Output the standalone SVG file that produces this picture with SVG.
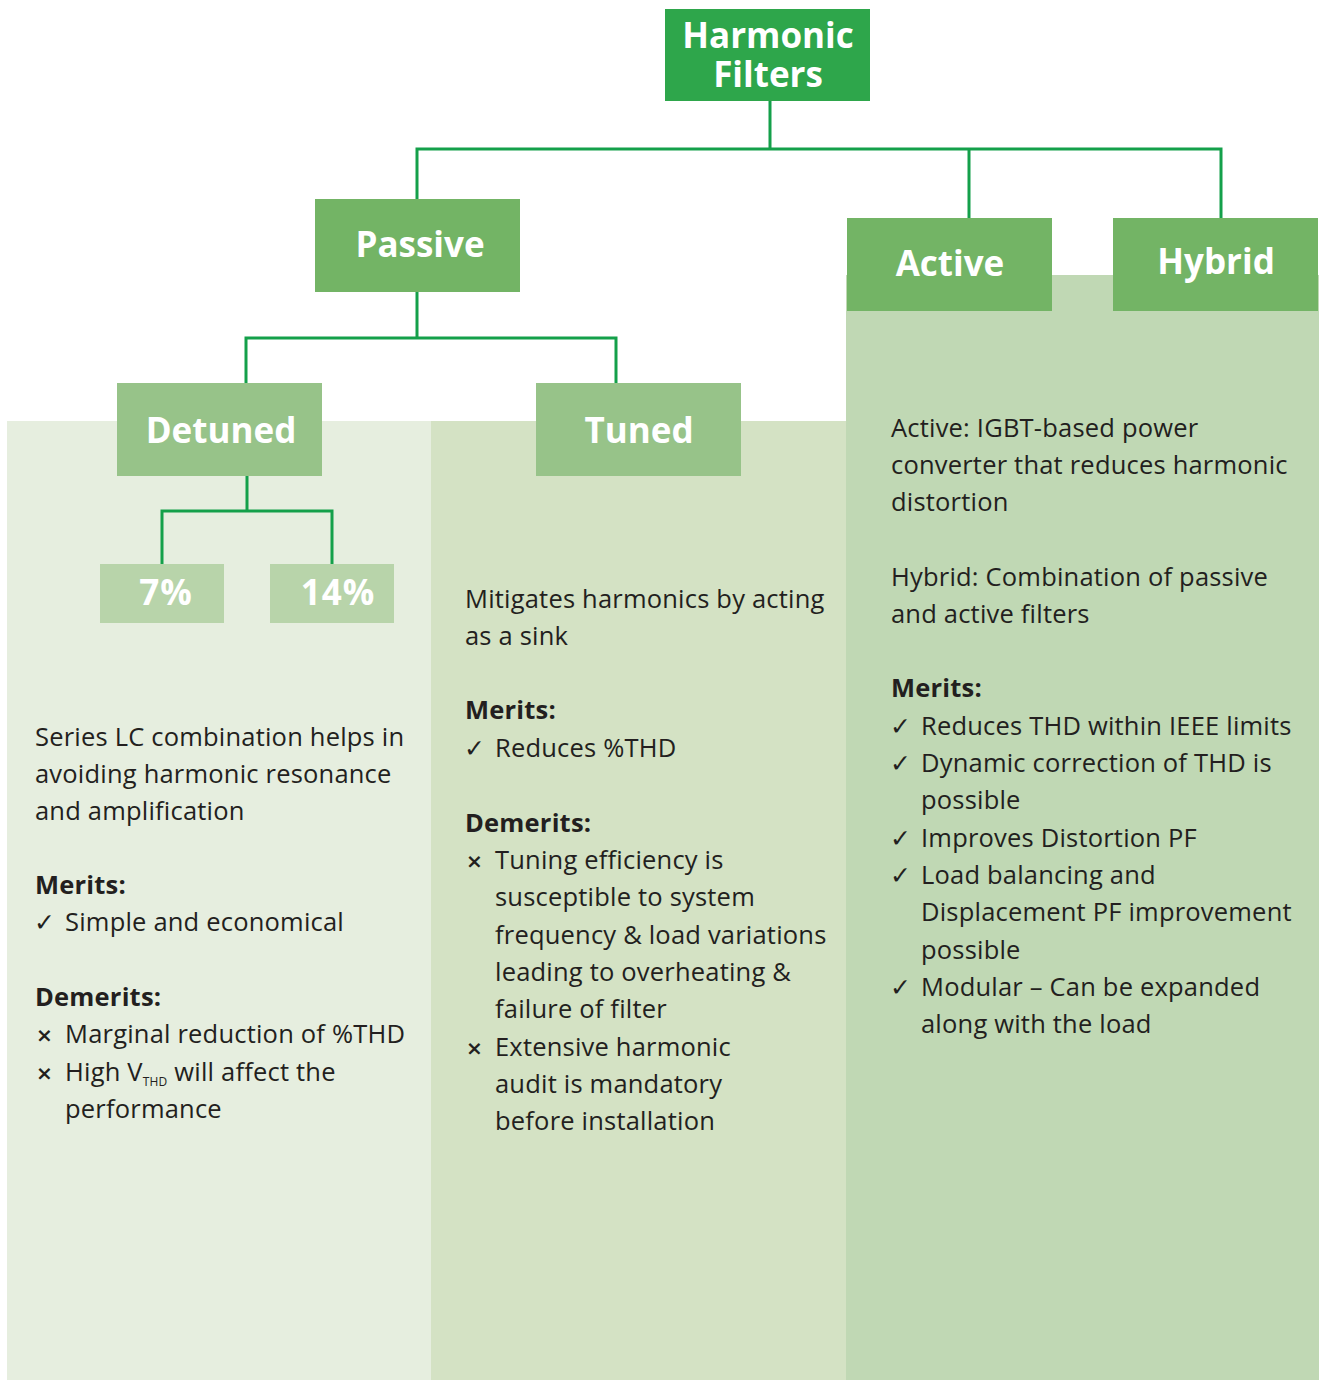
<svg xmlns="http://www.w3.org/2000/svg" width="1319" height="1380" viewBox="0 0 1319 1380">
<style>
.hd{font-family:"Open Sans","Noto Sans",sans-serif;font-weight:bold;fill:#fff;text-anchor:middle;font-size:35px}
.tx{font-family:"Open Sans","Noto Sans",sans-serif;font-size:25.5px;letter-spacing:0.2px;fill:#231f20}
.b{font-weight:bold}
.mk{font-family:"DejaVu Sans",sans-serif;font-size:25px;fill:#231f20}
.xk{font-family:"DejaVu Sans",sans-serif;font-size:20px;font-weight:bold;fill:#231f20}
.cn{fill:none;stroke:#14a04a;stroke-width:3}
</style>
<rect width="1319" height="1380" fill="#fff"/>
<g id="columns">
<rect x="7" y="421" width="424" height="959" fill="#e6eedf"/>
<rect x="431" y="421" width="415" height="959" fill="#d4e2c4"/>
<rect x="846" y="275" width="473" height="1105" fill="#c0d8b4"/>
</g>
<g id="connectors">
<path class="cn" d="M770 101V149M417 199V149H1221V218M969 149V218"/>
<path class="cn" d="M417 292V338M246 383V338H616V383"/>
<path class="cn" d="M247 476V511M162 564V511H332V564"/>
</g>
<g id="n-root"><rect x="665" y="9" width="205" height="92" fill="#2ea64b"/>
<text class="hd" x="768" y="48" font-size="33">Harmonic</text><text class="hd" x="768" y="87" font-size="33">Filters</text></g>
<g id="n-passive"><rect x="315" y="199" width="205" height="93" fill="#73b465"/><text class="hd" x="420" y="257">Passive</text></g>
<g id="n-active"><rect x="847" y="218" width="205" height="93" fill="#73b465"/><text class="hd" x="950" y="276">Active</text></g>
<g id="n-hybrid"><rect x="1113" y="218" width="205" height="93" fill="#73b465"/><text class="hd" x="1216" y="274">Hybrid</text></g>
<g id="n-detuned"><rect x="117" y="383" width="205" height="93" fill="#97c389"/><text class="hd" x="221" y="443">Detuned</text></g>
<g id="n-tuned"><rect x="536" y="383" width="205" height="93" fill="#97c389"/><text class="hd" x="639" y="443">Tuned</text></g>
<g id="n-7"><rect x="100" y="564" width="124" height="59" fill="#b8d4aa"/><text class="hd" x="166" y="605" letter-spacing="1">7%</text></g>
<g id="n-14"><rect x="270" y="564" width="124" height="59" fill="#b8d4aa"/><text class="hd" x="338" y="605" letter-spacing="1">14%</text></g>

<g id="t-detuned">
<text class="tx" x="35" y="746">Series LC combination helps in</text>
<text class="tx" x="35" y="783">avoiding harmonic resonance</text>
<text class="tx" x="35" y="820">and amplification</text>
<text class="tx b" x="35" y="894">Merits:</text>
<text class="mk" x="34" y="931">✓</text><text class="tx" x="65" y="931">Simple and economical</text>
<text class="tx b" x="35" y="1006">Demerits:</text>
<text class="xk" x="36" y="1042">×</text><text class="tx" x="65" y="1043">Marginal reduction of %THD</text>
<text class="xk" x="36" y="1080">×</text><text class="tx" x="65" y="1081">High V<tspan font-size="12" dy="5">THD</tspan><tspan dy="-5"> will affect the</tspan></text>
<text class="tx" x="65" y="1118">performance</text>
</g>
<g id="t-tuned">
<text class="tx" x="465" y="608">Mitigates harmonics by acting</text>
<text class="tx" x="465" y="645">as a sink</text>
<text class="tx b" x="465" y="719">Merits:</text>
<text class="mk" x="464" y="757">✓</text><text class="tx" x="495" y="757">Reduces %THD</text>
<text class="tx b" x="465" y="832">Demerits:</text>
<text class="xk" x="466" y="868">×</text><text class="tx" x="495" y="869">Tuning efficiency is</text>
<text class="tx" x="495" y="906">susceptible to system</text>
<text class="tx" x="495" y="944">frequency &amp; load variations</text>
<text class="tx" x="495" y="981">leading to overheating &amp;</text>
<text class="tx" x="495" y="1018">failure of filter</text>
<text class="xk" x="466" y="1055">×</text><text class="tx" x="495" y="1056">Extensive harmonic</text>
<text class="tx" x="495" y="1093">audit is mandatory</text>
<text class="tx" x="495" y="1130">before installation</text>
</g>
<g id="t-active">
<text class="tx" x="891" y="437">Active: IGBT-based power</text>
<text class="tx" x="891" y="474">converter that reduces harmonic</text>
<text class="tx" x="891" y="511">distortion</text>
<text class="tx" x="891" y="586">Hybrid: Combination of passive</text>
<text class="tx" x="891" y="623">and active filters</text>
<text class="tx b" x="891" y="697">Merits:</text>
<text class="mk" x="890" y="735">✓</text><text class="tx" x="921" y="735">Reduces THD within IEEE limits</text>
<text class="mk" x="890" y="772">✓</text><text class="tx" x="921" y="772">Dynamic correction of THD is</text>
<text class="tx" x="921" y="809">possible</text>
<text class="mk" x="890" y="847">✓</text><text class="tx" x="921" y="847">Improves Distortion PF</text>
<text class="mk" x="890" y="884">✓</text><text class="tx" x="921" y="884">Load balancing and</text>
<text class="tx" x="921" y="921">Displacement PF improvement</text>
<text class="tx" x="921" y="959">possible</text>
<text class="mk" x="890" y="996">✓</text><text class="tx" x="921" y="996">Modular – Can be expanded</text>
<text class="tx" x="921" y="1033">along with the load</text>
</g>
</svg>
